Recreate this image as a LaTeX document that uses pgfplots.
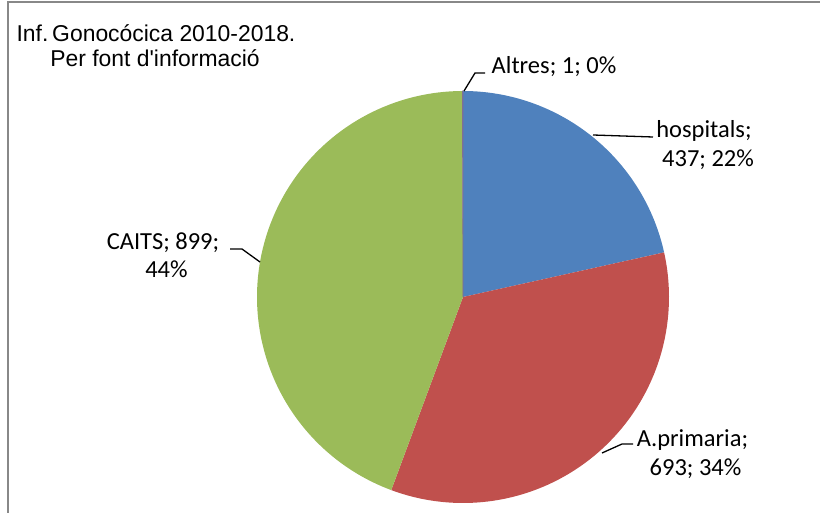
\documentclass[border=0pt]{standalone}
\usepackage{pgfplots}
\pgfplotsset{compat=1.18}
\usepackage{fontspec}
\newfontfamily\titlefont{Liberation Sans}
\newfontfamily\labfont{Carlito}
\definecolor{cHosp}{HTML}{4F81BD}
\definecolor{cPrim}{HTML}{C0504D}
\definecolor{cCaits}{HTML}{9BBB59}
\definecolor{cAltres}{HTML}{8064A2}
\definecolor{cBorder}{HTML}{888888}
% data
\def\vHosp{437}
\def\vPrim{693}
\def\vCaits{899}
\def\vAltres{1}
\begin{document}
\begin{tikzpicture}
\useasboundingbox (0,0) rectangle (820pt,513pt);
\pgfmathsetmacro\tot{\vHosp+\vPrim+\vCaits+\vAltres}
\pgfmathsetmacro\aA{90}
\pgfmathsetmacro\aB{90-(\vHosp/\tot)*360}
\pgfmathsetmacro\aC{\aB-(\vPrim/\tot)*360}
\pgfmathsetmacro\aD{\aC-(\vCaits/\tot)*360}
\pgfmathsetmacro\aE{\aD-(\vAltres/\tot)*360}
\begin{axis}[
  at={(0,0)}, anchor=south west,
  scale only axis, width=820pt, height=513pt,
  xmin=0, xmax=820, ymin=0, ymax=513, y dir=reverse,
  hide axis, clip=true,
]
\def\cx{463}\def\cy{297}\def\rr{206}
\addplot[fill=cHosp, draw=none, domain=\aB:\aA, samples=80, variable=\t]
  ({\cx+\rr*cos(t)}, {\cy-\rr*sin(t)}) -- (axis cs:\cx,\cy) -- cycle;
\addplot[fill=cPrim, draw=none, domain=\aC:\aB, samples=100, variable=\t]
  ({\cx+\rr*cos(t)}, {\cy-\rr*sin(t)}) -- (axis cs:\cx,\cy) -- cycle;
\addplot[fill=cCaits, draw=none, domain=\aD:\aC, samples=120, variable=\t]
  ({\cx+\rr*cos(t)}, {\cy-\rr*sin(t)}) -- (axis cs:\cx,\cy) -- cycle;
\addplot[fill=cAltres, draw=cAltres!60!gray, line width=0.6pt, domain=\aE:\aD, samples=3, variable=\t]
  ({\cx+\rr*cos(t)}, {\cy-\rr*sin(t)}) -- (axis cs:\cx,\cy) -- cycle;
% border
\draw[cBorder, line width=2pt] (axis cs:7.5,530) -- (axis cs:7.5,2.5) -- (axis cs:840,2.5);
% title
\node[anchor=base, font=\titlefont\fontsize{22.9}{25}\selectfont, inner sep=0pt] at (axis cs:156,41.7) {Inf.\,Gonocócica 2010-2018.};
\node[anchor=base, font=\titlefont\fontsize{22.9}{25}\selectfont, inner sep=0pt] at (axis cs:155,66.7) {Per font d'informació};
% leader lines
\draw[black, line width=1.3pt] (axis cs:464,91) -- (axis cs:475,73) -- (axis cs:485,73);
\draw[black, line width=1.3pt] (axis cs:593,135) -- (axis cs:653,137);
\draw[black, line width=1.3pt] (axis cs:230,249) -- (axis cs:242,249) -- (axis cs:260,262);
\draw[black, line width=1.3pt] (axis cs:602,453) -- (axis cs:622,444) -- (axis cs:633,444);
% labels
\tikzset{lab/.style={anchor=base, font=\labfont\fontsize{24.5}{28.7}\selectfont, inner sep=0pt}}
\node[lab] at (axis cs:554,73.3) {Altres; 1; 0\%};
\node[lab] at (axis cs:704,138) {hospitals;};
\node[lab] at (axis cs:708,166.7) {437; 22\%};
\node[lab] at (axis cs:163,250) {CAITS; 899;};
\node[lab] at (axis cs:166.5,278) {44\%};
\node[lab] at (axis cs:692.5,446) {A.primaria;};
\node[lab] at (axis cs:695.5,475) {693; 34\%};
\end{axis}
\end{tikzpicture}
\end{document}
